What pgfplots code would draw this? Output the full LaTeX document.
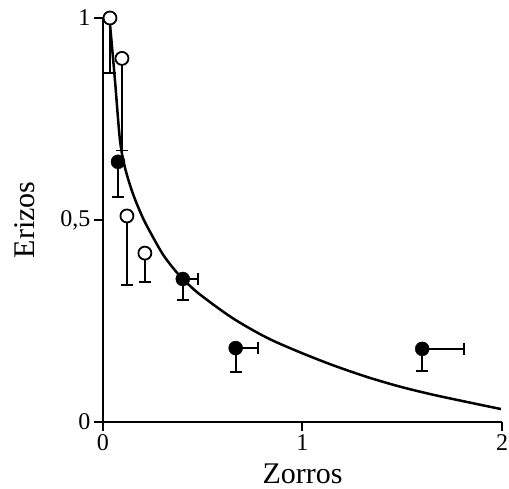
\documentclass[border=0pt]{standalone}
\usepackage{fontspec}
\setmainfont{Liberation Serif}
\usepackage{pgfplots}
\usepackage{pgfplotstable}
\pgfplotsset{compat=1.18}

% x y ex ey  (filled circles)
\pgfplotstableread{
x     y     ex    ey
0.075 0.644 0     0.087
0.40  0.354 0.075 0.052
0.665 0.183 0.11  0.059
1.60  0.181 0.21  0.055
}\filled

% open circles, error bars downwards only
\pgfplotstableread{
x     y     ey
0.035 1.00  0.136
0.095 0.90  0.228
0.12  0.51  0.171
0.21  0.418 0.071
}\open

\pgfplotsset{
  errs/.style={
    error bars/.cd,
    error mark=-,
    error bar style={black, line width=1.8pt},
    error mark options={rotate=90, black, line width=1.8pt, mark size=6pt},
  },
}

\begin{document}
\begin{tikzpicture}
\begin{axis}[
    scale only axis,
    width=399pt, height=404pt,
    xmin=0, xmax=2,
    ymin=0, ymax=1,
    axis lines*=left,
    axis line style={line width=2pt},
    tick align=outside,
    major tick length=9pt,
    tick style={line width=2pt, black},
    xtick={0,1,2}, xticklabels={0,1,2},
    ytick={0,0.5,1}, yticklabels={0,{0,5},1},
    tick label style={font=\fontsize{24}{26}\selectfont},
    xlabel={Zorros}, ylabel={Erizos},
    label style={font=\fontsize{30}{32}\selectfont},
    xlabel style={yshift=-6pt},
    ylabel style={yshift=19pt},
    clip=false,
]
% fitted curve
\addplot[black, line width=2.5pt, smooth, tension=0.5] coordinates {
  (0.035,0.985) (0.06,0.846) (0.085,0.698) (0.11,0.630) (0.15,0.565)
  (0.20,0.505) (0.25,0.458) (0.30,0.415) (0.35,0.382) (0.40,0.354)
  (0.485,0.316) (0.65,0.257) (0.82,0.209) (0.985,0.173) (1.15,0.141)
  (1.32,0.112) (1.485,0.088) (1.65,0.068) (1.82,0.050) (1.995,0.032)
};

% open circles with error bars
\addplot[black, only marks, mark=*, mark size=6.5pt,
  mark options={draw=black, fill=white, line width=1.8pt},
  errs, y dir=minus, y explicit]
  table[x=x, y=y, y error=ey] {\open};
% filled circles with error bars
\addplot[black, only marks, mark=*, mark size=7pt,
  mark options={draw=black, fill=black},
  errs, y dir=minus, y explicit, x dir=plus, x explicit]
  table[x=x, y=y, x error=ex, y error=ey] {\filled};

\coordinate (O) at (axis cs:0,0);
\coordinate (T) at (axis cs:2,1);
\end{axis}
\pgfresetboundingbox
\path[use as bounding box] ([shift={(-103pt,-67pt)}]O) rectangle ([shift={(7pt,18pt)}]T);
\end{tikzpicture}
\end{document}
